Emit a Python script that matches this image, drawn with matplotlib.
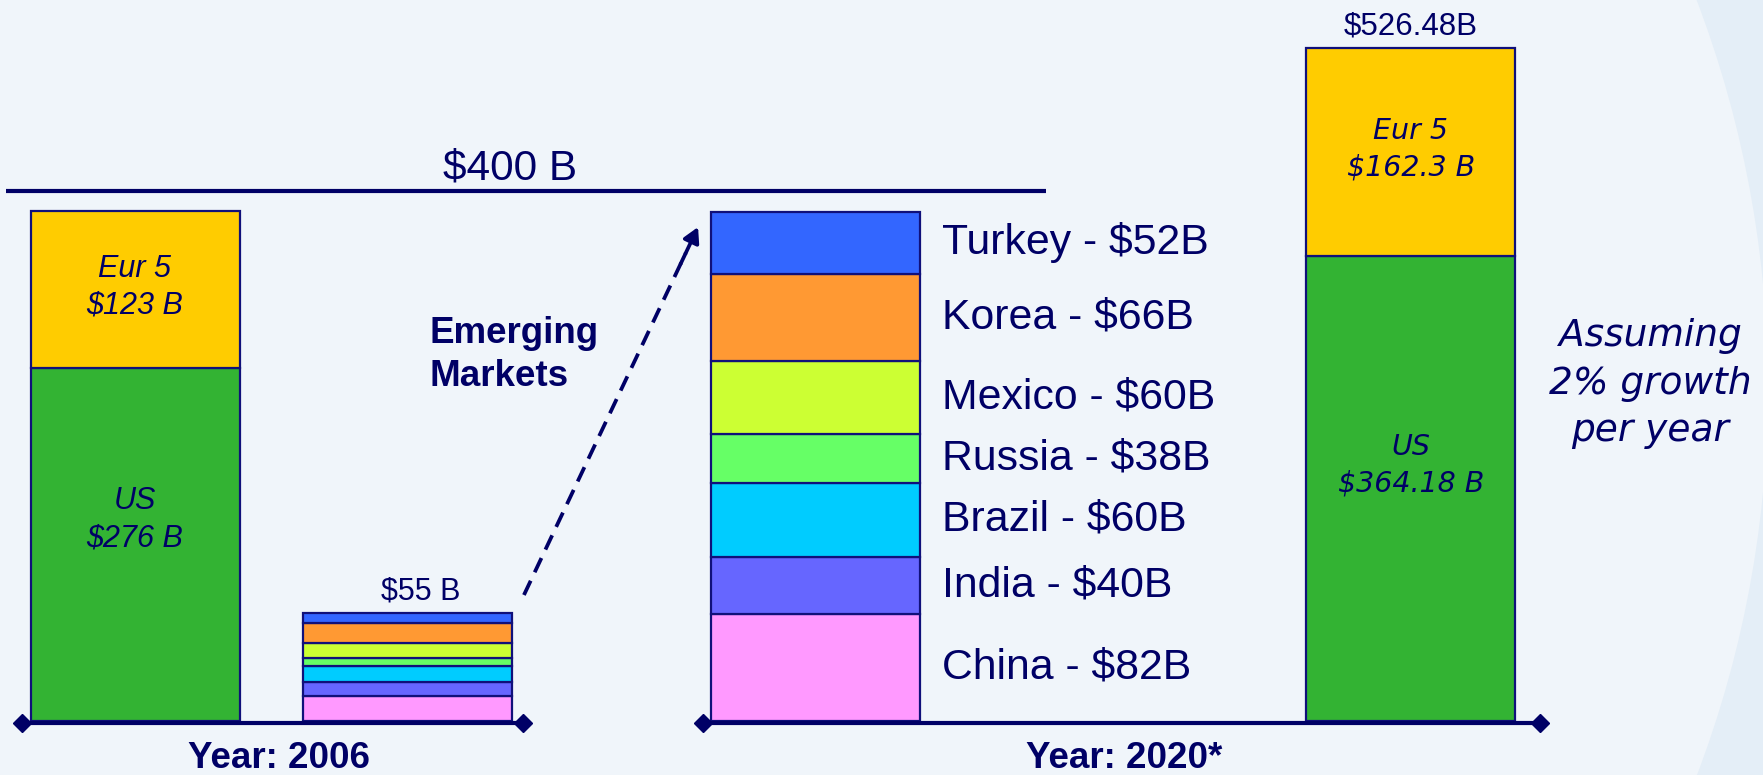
import matplotlib
matplotlib.use('Agg')
import matplotlib.pyplot as plt
from matplotlib.patches import Ellipse

# ---------------- data ----------------
us_values = [276, 364.18]            # 2006, 2020*
eur5_values = [123, 162.3]
us_labels = ['US\n$276 B', 'US\n$364.18 B']
eur5_labels = ['Eur 5\n$123 B', 'Eur 5\n$162.3 B']
total_2020_label = '$526.48B'
ref_line_label = '$400 B'
ref_line_value = 415

em_countries = ['China', 'India', 'Brazil', 'Russia', 'Mexico', 'Korea', 'Turkey']
em_colors = ['#FF99FF', '#6666FF', '#00CCFF', '#66FF66', '#CCFF33', '#FF9933', '#3366FF']
em_2006_values = [12.7, 7.0, 8.5, 3.8, 7.5, 10.3, 5.2]
em_2006_total_label = '$55 B'
em_2020_values = [82, 40, 60, 38, 60, 66, 52]
em_2020_bar_heights = [83.6, 44.9, 58.0, 37.8, 57.2, 68.6, 48.4]

year_labels = ['Year: 2006', 'Year: 2020*']
note_text = 'Assuming\n2% growth\nper year'
em_title = 'Emerging\nMarkets'

# ---------------- style ----------------
NAVY = '#000066'
EDGE = '#10107A'
GREEN = '#33B333'
GOLD = '#FFCC00'
BG = '#F0F5FA'
BG2 = '#E4EEF7'

plt.rcParams['font.family'] = ['Liberation Sans', 'DejaVu Sans']

W, H = 17.63, 7.75
fig = plt.figure(figsize=(W, H), dpi=100)
fig.patch.set_facecolor(BG2)
bg_circle = Ellipse((678 / 1763, 387 / 775), 2 * 1090 / 1763, 2 * 1090 / 775,
                    transform=fig.transFigure, facecolor=BG, edgecolor='none', zorder=-10)
fig.patches.append(bg_circle)

ax = fig.add_axes([0, 0, 1, 1])
ax.set_zorder(1)
ax.set_facecolor('none')
px_per_unit = 1.278        # pixels per $B (main scale)
bar_px = 209               # pixels per x unit (one bar width)
x0_px, y0_px = 135, 721
ax.set_xlim(-x0_px / bar_px, (1763 - x0_px) / bar_px)
ax.set_ylim((y0_px - 775) / px_per_unit, y0_px / px_per_unit)
ax.axis('off')

x_left, x_small, x_mid, x_right = 0.0, 1.306, 3.258, 6.105
bw = 1.0
lw_edge = 1.6

# ---- US / Eur5 bars ----
bar_specs = [(x_left, 0, 'Liberation Sans', 22, 1.3, 0.57),
             (x_right, 1, 'DejaVu Sans', 20.5, 1.38, 0.55)]
for x, i, fam, fs, ls, frac in bar_specs:
    us, eu = us_values[i], eur5_values[i]
    ax.bar(x, us, width=bw, color=GREEN, edgecolor=EDGE, linewidth=lw_edge, zorder=3)
    ax.bar(x, eu, bottom=us, width=bw, color=GOLD, edgecolor=EDGE, linewidth=lw_edge, zorder=3)
    ax.text(x, us * frac, us_labels[i], ha='center', va='center', fontsize=fs, style='italic',
            color=NAVY, family=fam, linespacing=ls, zorder=4)
    ax.text(x, us + eu / 2 + 2, eur5_labels[i], ha='center', va='center', fontsize=fs, style='italic',
            color=NAVY, family=fam, linespacing=ls, zorder=4)

ax.annotate(total_2020_label, (x_right, us_values[1] + eur5_values[1]), xytext=(0, 5),
            textcoords='offset points', ha='center', va='bottom', fontsize=22.5, color=NAVY, zorder=4)

# ---- Emerging markets 2020 bar ----
bottom = 0
for name, h, v, c in zip(em_countries, em_2020_bar_heights, em_2020_values, em_colors):
    ax.bar(x_mid, h, bottom=bottom, width=bw, color=c, edgecolor=EDGE, linewidth=lw_edge, zorder=3)
    ax.text(x_mid + bw / 2 + 0.105, bottom + h / 2, f'{name} - ${v}B', ha='left', va='center',
            fontsize=30.8, color=NAVY, zorder=4)
    bottom += h

# ---- Emerging markets 2006 bar (enlarged scale, own axis) ----
ax2 = ax.twinx()
ax2.set_zorder(2)
ax2.set_facecolor('none')
small_scale = 1.963 / px_per_unit
lo, hi = ax.get_ylim()
ax2.set_ylim(lo / small_scale, hi / small_scale)
ax2.axis('off')
bottom = 0
for h, c in zip(em_2006_values, em_colors):
    ax2.bar(x_small, h, bottom=bottom, width=bw, color=c, edgecolor=EDGE, linewidth=lw_edge, zorder=3)
    bottom += h
ax2.annotate(em_2006_total_label, (x_small + 0.06, bottom), xytext=(0, 5), textcoords='offset points',
             ha='center', va='bottom', fontsize=22, color=NAVY, zorder=4)

# ---- baselines with diamond ends ----
for xa, xb in [(x_left - bw / 2 - 0.04, x_small + bw / 2 + 0.05), (x_mid - bw / 2 - 0.04, x_right + bw / 2 + 0.117)]:
    ax2.plot([xa, xb], [-1, -1], color=NAVY, lw=3, solid_capstyle='butt', zorder=5)
    ax2.plot([xa, xb], [-1, -1], linestyle='none', marker='D', markersize=9, color=NAVY, zorder=5)

ax.text(0.689, -29.5, year_labels[0], ha='center', va='center',
        fontsize=26.5, fontweight='bold', color=NAVY)
ax.text(4.732, -29.5, year_labels[1], ha='center', va='center',
        fontsize=26.5, fontweight='bold', color=NAVY)

# ---- $400 B reference line ----
ax.plot([-0.617, 4.359], [ref_line_value, ref_line_value], color=NAVY, lw=3, solid_capstyle='butt', zorder=5)
ax.text(1.795, ref_line_value + 17.5, ref_line_label, ha='center', va='center', fontsize=30.5, color=NAVY)

# ---- Emerging markets title and arrow ----
ax.text(1.411, 286.5, em_title, ha='left', va='center', fontsize=26.5, fontweight='bold',
        color=NAVY, linespacing=1.3)
sx, sy, ex, ey = 1.861, 98.6, 2.694, 386.5
f = 0.93
ax.plot([sx, sx + (ex - sx) * f], [sy, sy + (ey - sy) * f], color=NAVY, lw=2.7,
        linestyle=(0, (4.2, 2.5)), zorder=5)
ax.annotate('', xy=(ex, ey), xytext=(sx + (ex - sx) * 0.9, sy + (ey - sy) * 0.9),
            arrowprops=dict(arrowstyle='-|>,head_length=0.9,head_width=0.5', color=NAVY, lw=2.7,
                            shrinkA=0, shrinkB=0), zorder=5)

# ---- note ----
ax.text(7.25, 264, note_text, ha='center', va='center', fontsize=27, style='italic',
        family='DejaVu Sans', color=NAVY, linespacing=1.4)

fig.savefig('out.png', dpi=100, facecolor=fig.get_facecolor())
